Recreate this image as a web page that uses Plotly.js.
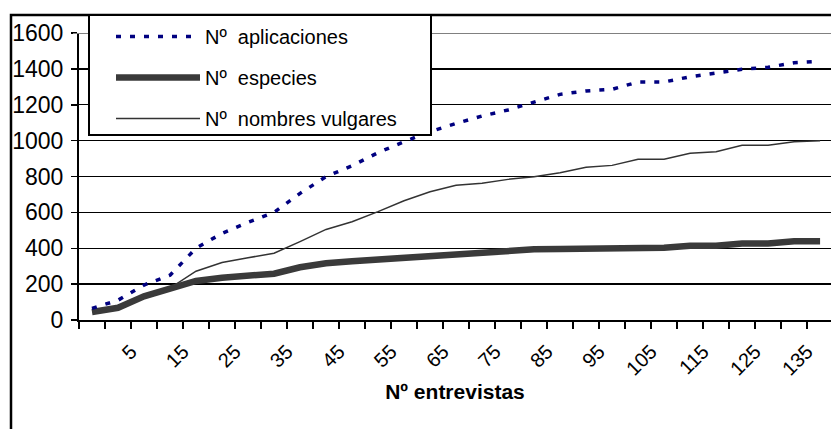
<!DOCTYPE html>
<html>
<head>
<meta charset="utf-8">
<script src="https://cdn.plot.ly/plotly-3.0.1.min.js"></script>
<style>
html,body{margin:0;padding:0;background:#fff;}
#chart{width:831px;height:429px;}
</style>
</head>
<body>
<div id="chart"></div>
<script>
// Categories: number of interviews
const entrevistas = [0,5,10,15,20,25,30,35,40,45,50,55,60,65,70,75,80,85,90,95,100,105,110,115,120,125,130,135,140];
// Tick labels shown on the x axis
const xTickVals = [5,15,25,35,45,55,65,75,85,95,105,115,125,135];
const xTickText = ["5","15","25","35","45","55","65","75","85","95","105","115","125","135"];
// Series values
const aplicaciones = [65,110,195,250,400,483,544,600,706,799,860,933,994,1050,1096,1137,1171,1217,1258,1277,1286,1327,1327,1356,1379,1398,1409,1434,1442];
const especies = [45,68,132,176,218,236,247,258,294,316,328,338,349,360,370,372,383,394,396,396,396,403,403,414,414,427,427,439,439];
const nombres = [50,72,135,178,272,320,347,372,437,505,548,604,665,715,751,762,784,799,821,851,862,896,896,929,938,974,974,994,1000];
const yTickVals = [0,200,400,600,800,1000,1200,1400,1600];

const FONT = "Arial, 'Liberation Sans', sans-serif";

// category boundaries for tick marks
const boundaries = entrevistas.map(v => v - 2.5).concat([entrevistas[entrevistas.length-1] + 2.5]);

const traces = [
  {x: entrevistas, y: nombres, name: "Nº  nombres vulgares", type: "scatter", mode: "lines",
   line: {color: "#333333", width: 1.5}, legendrank: 3, legendgroup: "c"},
  {x: entrevistas, y: especies, name: "Nº  especies", type: "scatter", mode: "lines",
   line: {color: "#3a3a3a", width: 6.5}, legendrank: 2, legendgroup: "b"},
  {x: entrevistas, y: aplicaciones, name: "Nº  aplicaciones", type: "scatter", mode: "lines",
   line: {color: "#000080", width: 3.5, dash: "5px,9px"}, legendrank: 1, legendgroup: "a"}
];

const PW = 752, PH = 287; // plot area size in px
const px2x = p => (p - 79) / PW;
const px2y = p => (320 - p) / PH;

const layout = {
  width: 831, height: 429,
  margin: {l: 79, r: 0, t: 33, b: 109, pad: 0},
  paper_bgcolor: "#ffffff", plot_bgcolor: "#ffffff",
  font: {family: FONT, color: "#000000", size: 20},
  showlegend: true,
  legend: {
    x: px2x(111), y: px2y(17), xanchor: "left", yanchor: "top",
    borderwidth: 0, bgcolor: "rgba(255,255,255,0)",
    font: {family: FONT, size: 20, color: "#000000"},
    itemwidth: 84, tracegroupgap: 12, traceorder: "grouped"
  },
  xaxis: {
    type: "linear", range: [-2.5, 142.1], autorange: false,
    tickmode: "array", tickvals: xTickVals, ticktext: xTickText,
    ticks: "", tickangle: -45, tickfont: {family: FONT, size: 20, color: "#000"},
    ticklabelshift: 13, ticklabelstandoff: 10,
    minor: {tickmode: "array", tickvals: boundaries, ticks: "outside", ticklen: 7, tickwidth: 1.5, tickcolor: "#000", showgrid: false},
    showline: true, linecolor: "#000", linewidth: 2,
    showgrid: false, zeroline: false,
    title: {text: "<b>Nº entrevistas</b>", font: {family: FONT, size: 21, color: "#000"}, standoff: 6}
  },
  yaxis: {
    range: [0, 1600], autorange: false,
    tickmode: "array", tickvals: yTickVals,
    ticks: "outside", ticklen: 6, tickwidth: 1.5, tickcolor: "#000",
    tickfont: {family: FONT, size: 23, color: "#000"},
    ticklabelstandoff: 3,
    showline: true, linecolor: "#000", linewidth: 2,
    showgrid: true, gridcolor: "#000", gridwidth: 1.3, zeroline: false
  },
  shapes: [
    {type: "line", xref: "paper", yref: "y", x0: -6/PW, x1: 1, y0: 1600, y1: 1600,
     line: {color: "#808080", width: 2}, layer: "above"},
    {type: "rect", xref: "paper", yref: "paper", x0: px2x(11), x1: 1.2, y0: -1, y1: px2y(15),
     line: {color: "#000", width: 2.5}, fillcolor: "rgba(0,0,0,0)", layer: "below"},
    // legend frame
    {type: "rect", xref: "paper", yref: "paper", x0: px2x(89), x1: px2x(431), y0: px2y(135), y1: px2y(15),
     line: {color: "#000", width: 2}, fillcolor: "#ffffff", layer: "above"}
  ]
};

Plotly.newPlot("chart", traces, layout, {displayModeBar: false, staticPlot: true});
</script>
</body>
</html>
